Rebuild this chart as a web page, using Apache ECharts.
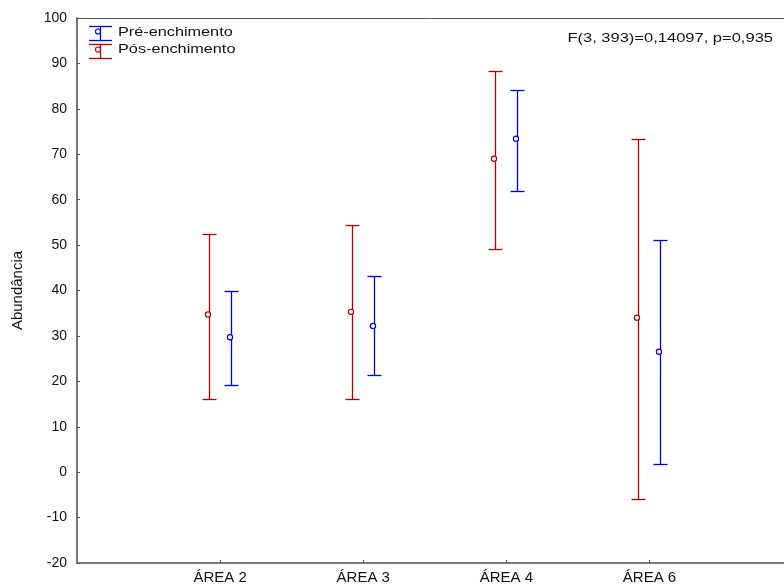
<!DOCTYPE html>
<html>
<head>
<meta charset="utf-8">
<script src="https://cdn.jsdelivr.net/npm/echarts@6/dist/echarts.min.js"></script>
<style>
  html, body { margin: 0; padding: 0; background: #fff; }
  #chart { width: 784px; height: 587px; }
</style>
</head>
<body>
<div id="chart"></div>
<script>
var categories = ['ÁREA 2', 'ÁREA 3', 'ÁREA 4', 'ÁREA 6'];
var yTicks = [-20, -10, 0, 10, 20, 30, 40, 50, 60, 70, 80, 90, 100];

// Pré-enchimento (azul)
var preMean = [29.7, 32.2, 73.4, 26.5];
var preLow  = [19.1, 21.3, 61.8, 1.8];
var preHigh = [39.8, 43.1, 84.1, 51.2];

// Pós-enchimento (vermelho)
var posMean = [34.7, 35.3, 69.0, 34.0];
var posLow  = [16.0, 16.0, 49.2, -5.8];
var posHigh = [52.5, 54.4, 88.3, 73.4];

var statText = 'F(3, 393)=0,14097, p=0,935';

var BLUE = '#0000e6';
var RED = '#b00000';
var FONT = '"Liberation Sans", Arial, sans-serif';

function buildData(mean, low, high) {
    var out = [];
    for (var i = 0; i < categories.length; i++) {
        out.push([i + 1, mean[i], low[i], high[i]]);
    }
    return out;
}

function lineStyle(color) {
    return { stroke: color, lineWidth: 1.3 };
}

// snap to pixel centre
function px(v) {
    return Math.round(v) + 0.5;
}

function errorBar(offset, color) {
    return function (params, api) {
        var x = api.value(0);
        var pMean = api.coord([x, api.value(1)]);
        var yLow = px(api.coord([x, api.value(2)])[1]);
        var yHigh = px(api.coord([x, api.value(3)])[1]);
        var cx = px(pMean[0] + offset);
        return {
            type: 'group',
            children: [
                { type: 'line', shape: { x1: cx, y1: yHigh, x2: cx, y2: yLow }, style: lineStyle(color) },
                { type: 'line', shape: { x1: cx - 7, y1: yHigh, x2: cx + 7, y2: yHigh }, style: lineStyle(color) },
                { type: 'line', shape: { x1: cx - 7, y1: yLow, x2: cx + 7, y2: yLow }, style: lineStyle(color) },
                { type: 'circle', shape: { cx: cx - 1.5, cy: pMean[1], r: 2.6 },
                  style: { stroke: color, fill: '#fff', lineWidth: 1.2 } }
            ]
        };
    };
}

function legendIcon(y, color) {
    return [
        { type: 'line', shape: { x1: 89, y1: y - 5, x2: 112, y2: y - 5 }, style: lineStyle(color) },
        { type: 'line', shape: { x1: 100.5, y1: y - 5, x2: 100.5, y2: y + 9 }, style: lineStyle(color) },
        { type: 'line', shape: { x1: 89, y1: y + 9, x2: 112, y2: y + 9 }, style: lineStyle(color) },
        { type: 'circle', shape: { cx: 98, cy: y, r: 2.5 }, style: { stroke: color, fill: '#fff', lineWidth: 1.2 } }
    ];
}

var chart = echarts.init(document.getElementById('chart'));

var option = {
    animation: false,
    backgroundColor: '#fff',
    grid: { left: 77, top: 18, right: 0, bottom: 24 },
    xAxis: [{
        type: 'value',
        min: 0,
        max: 4.94,
        interval: 1,
        splitLine: { show: false },
        axisLine: { show: true, onZero: false, lineStyle: { color: '#777', width: 2 } },
        axisTick: { show: true, inside: true, length: 3, lineStyle: { color: '#555' } },
        axisLabel: {
            color: '#111', fontSize: 15, fontFamily: FONT, margin: 7,
            showMinLabel: false, showMaxLabel: false,
            formatter: function (v) {
                var i = Math.round(v) - 1;
                return (Math.abs(v - Math.round(v)) < 1e-6 && categories[i]) ? categories[i] : '';
            }
        }
    }, {
        type: 'value',
        position: 'top',
        min: 0,
        max: 4.94,
        axisLine: { show: true, onZero: false, lineStyle: { color: '#555', width: 1 } },
        axisTick: { show: false },
        axisLabel: { show: false },
        splitLine: { show: false }
    }],
    yAxis: {
        type: 'value',
        min: yTicks[0],
        max: yTicks[yTicks.length - 1],
        interval: 10,
        name: 'Abundância',
        nameLocation: 'middle',
        nameRotate: 90,
        nameGap: 52,
        nameTextStyle: { color: '#111', fontSize: 15, fontFamily: FONT },
        splitLine: { show: false },
        axisLine: { show: true, onZero: false, lineStyle: { color: '#777', width: 2 } },
        axisTick: { show: true, inside: true, length: 3, lineStyle: { color: '#555' } },
        axisLabel: { color: '#111', fontSize: 14, fontFamily: FONT, margin: 10 }
    },
    series: [{
        name: 'Pós-enchimento',
        type: 'custom',
        renderItem: errorBar(-11, RED),
        encode: { x: 0, y: [1, 2, 3] },
        data: buildData(posMean, posLow, posHigh),
        z: 3
    }, {
        name: 'Pré-enchimento',
        type: 'custom',
        renderItem: errorBar(11, BLUE),
        encode: { x: 0, y: [1, 2, 3] },
        data: buildData(preMean, preLow, preHigh),
        z: 3
    }],
    graphic: [].concat(
        legendIcon(31.5, BLUE),
        legendIcon(49.5, RED),
        [
            { type: 'text', x: 118, y: 32, scaleX: 1.25,
              style: { text: 'Pré-enchimento', fill: '#111', font: '13px ' + FONT, verticalAlign: 'middle' } },
            { type: 'text', x: 118, y: 49, scaleX: 1.25,
              style: { text: 'Pós-enchimento', fill: '#111', font: '13px ' + FONT, verticalAlign: 'middle' } },
            { type: 'text', x: 773, y: 38, scaleX: 1.27,
              style: { text: statText, fill: '#111', font: '13px ' + FONT, align: 'right', verticalAlign: 'middle' } }
        ]
    )
};

chart.setOption(option);
</script>
</body>
</html>
